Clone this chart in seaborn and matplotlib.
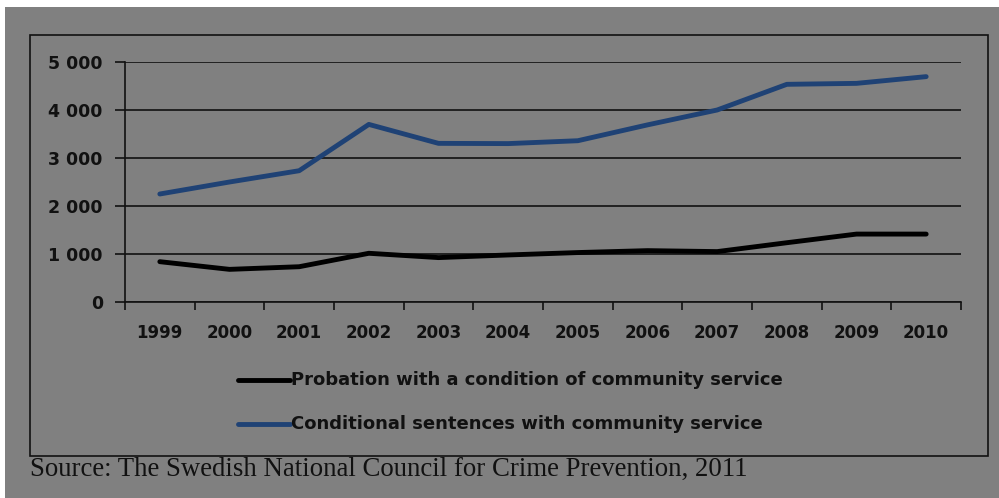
import matplotlib
matplotlib.use("Agg")
import matplotlib.pyplot as plt
from matplotlib.patches import Rectangle
from matplotlib.lines import Line2D
from matplotlib.ticker import FuncFormatter, FixedLocator
import seaborn as sns
import pandas as pd

years = ["1999", "2000", "2001", "2002", "2003", "2004",
         "2005", "2006", "2007", "2008", "2009", "2010"]
probation = [840, 680, 735, 1015, 925, 980, 1030, 1070, 1050, 1235, 1415, 1415]
conditional = [2250, 2500, 2735, 3700, 3305, 3300, 3360, 3690, 4000, 4535, 4555, 4695]
series_names = ["Probation with a condition of community service",
                "Conditional sentences with community service"]
series_colors = ["#000000", "#1f4275"]
source_note = "Source: The Swedish National Council for Crime Prevention, 2011"

W, H = 999, 498
sns.set_theme(style="white")
plt.rcParams["font.family"] = ["DejaVu Sans"]

fig = plt.figure(figsize=(W / 100, H / 100), dpi=100)
fig.patch.set_facecolor("white")

# grey panel and the framed chart area, in pixel coordinates
def px_rect(x0, y0, x1, y1, **kw):
    return Rectangle((x0 / W, 1 - y1 / H), (x1 - x0) / W, (y1 - y0) / H,
                     transform=fig.transFigure, **kw)

fig.patches.append(px_rect(5, 7, 999, 498, facecolor="#808080", edgecolor="none", zorder=-2))
fig.patches.append(px_rect(30, 35, 988, 456, facecolor="none", edgecolor="#111111",
                           linewidth=1.2, zorder=-1))

ax = fig.add_axes([125 / W, 1 - 302 / H, (961 - 125) / W, (302 - 62) / H])
ax.set_facecolor("none")
ax.set_zorder(2)

df = pd.DataFrame({
    "pos": list(range(len(years))) * 2,
    "value": probation + conditional,
    "series": [series_names[0]] * len(years) + [series_names[1]] * len(years),
})
sns.lineplot(data=df, x="pos", y="value", hue="series", palette=series_colors,
             hue_order=series_names, linewidth=3.5, legend=False, ax=ax,
             solid_capstyle="round", solid_joinstyle="round")

ax.set_xlim(-0.5, len(years) - 0.5)
ax.set_ylim(0, 5000)
ax.set_yticks([0, 1000, 2000, 3000, 4000, 5000])
ax.yaxis.set_major_formatter(FuncFormatter(lambda v, p: f"{int(v):,}".replace(",", " ")))
ax.set_xticks(range(len(years)))
ax.set_xticklabels(years)
ax.xaxis.set_minor_locator(FixedLocator([i - 0.5 for i in range(len(years) + 1)]))
ax.tick_params(axis="x", which="major", length=0, pad=16, labelsize=12,
               labelcolor="#111111")
ax.tick_params(axis="x", which="minor", length=6, width=1.2, color="#111111",
               direction="out", bottom=True)
ax.tick_params(axis="y", which="major", length=7, width=1.2, color="#111111",
               direction="out", left=True, pad=9, labelsize=12.5, labelcolor="#111111")
for lab in ax.get_xticklabels() + ax.get_yticklabels():
    lab.set_fontweight("bold")

ax.grid(axis="y", color="#111111", linewidth=1.2)
ax.grid(axis="x", visible=False)
ax.set_axisbelow(True)
for side in ["top", "right"]:
    ax.spines[side].set_visible(False)
for side in ["left", "bottom"]:
    ax.spines[side].set_color("#111111")
    ax.spines[side].set_linewidth(1.2)
ax.set_xlabel("")
ax.set_ylabel("")

# legend drawn as line samples with labels
for i, (name, col) in enumerate(zip(series_names, series_colors)):
    y = 1 - (380 + 44 * i) / H
    fig.lines.append(Line2D([238 / W, 290 / W], [y, y], transform=fig.transFigure,
                            color=col, linewidth=3.5, zorder=3))
    fig.text(291 / W, y, name, ha="left", va="center", fontsize=13,
             fontweight="bold", color="#111111")

fig.text(30 / W, 1 - 469 / H, source_note, ha="left", va="center",
         fontsize=19.3, family="Liberation Serif", color="#111111")

fig.savefig("out.png", dpi=100, facecolor="white")
